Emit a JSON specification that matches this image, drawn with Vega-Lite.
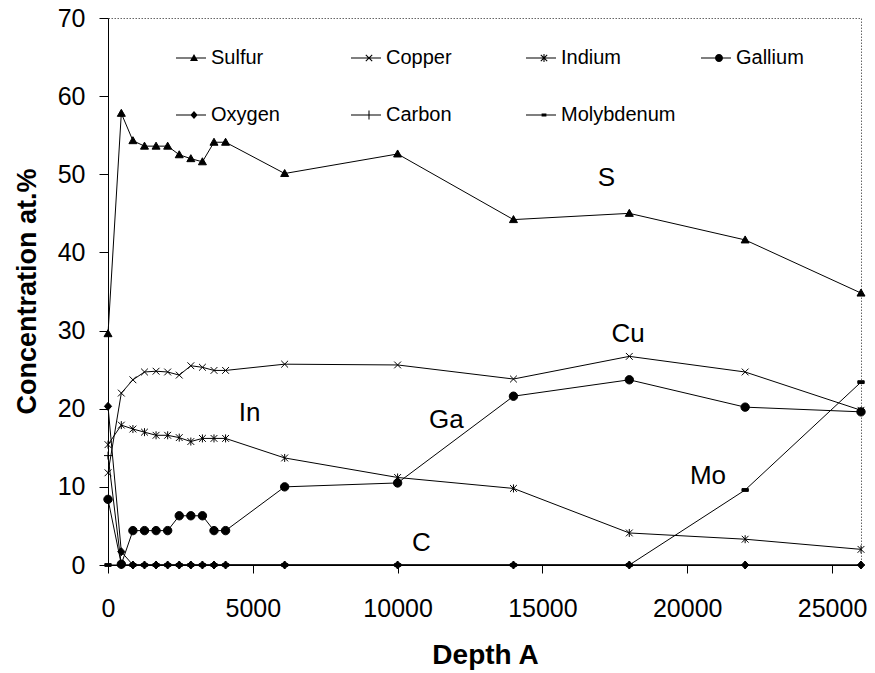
{
  "$schema": "https://vega.github.io/schema/vega-lite/v6.json",
  "autosize": "none",
  "width": 753,
  "height": 547,
  "padding": {"left": 108, "top": 18, "right": 14, "bottom": 108},
  "background": "white",
  "config": {
    "font": "Liberation Sans",
    "view": {"stroke": "#666", "strokeDash": [1.5, 1.5], "strokeWidth": 1}
  },
  "datasets": {
    "conc": [
      {"depth": 0, "Sulfur": 29.6, "Copper": 11.8, "Indium": 15.4, "Gallium": 8.4, "Oxygen": 20.3, "Carbon": 14.0, "Molybdenum": 0},
      {"depth": 460, "Sulfur": 57.8, "Copper": 22.0, "Indium": 17.9, "Gallium": 0.1, "Oxygen": 1.7, "Carbon": 0, "Molybdenum": 0},
      {"depth": 860, "Sulfur": 54.3, "Copper": 23.7, "Indium": 17.4, "Gallium": 4.4, "Oxygen": 0, "Carbon": 0, "Molybdenum": 0},
      {"depth": 1260, "Sulfur": 53.6, "Copper": 24.7, "Indium": 17.0, "Gallium": 4.4, "Oxygen": 0, "Carbon": 0, "Molybdenum": 0},
      {"depth": 1660, "Sulfur": 53.6, "Copper": 24.8, "Indium": 16.6, "Gallium": 4.4, "Oxygen": 0, "Carbon": 0, "Molybdenum": 0},
      {"depth": 2060, "Sulfur": 53.6, "Copper": 24.7, "Indium": 16.6, "Gallium": 4.4, "Oxygen": 0, "Carbon": 0, "Molybdenum": 0},
      {"depth": 2460, "Sulfur": 52.5, "Copper": 24.3, "Indium": 16.3, "Gallium": 6.3, "Oxygen": 0, "Carbon": 0, "Molybdenum": 0},
      {"depth": 2860, "Sulfur": 52.0, "Copper": 25.5, "Indium": 15.8, "Gallium": 6.3, "Oxygen": 0, "Carbon": 0, "Molybdenum": 0},
      {"depth": 3260, "Sulfur": 51.6, "Copper": 25.3, "Indium": 16.2, "Gallium": 6.3, "Oxygen": 0, "Carbon": 0, "Molybdenum": 0},
      {"depth": 3660, "Sulfur": 54.1, "Copper": 24.9, "Indium": 16.2, "Gallium": 4.4, "Oxygen": 0, "Carbon": 0, "Molybdenum": 0},
      {"depth": 4060, "Sulfur": 54.1, "Copper": 24.9, "Indium": 16.2, "Gallium": 4.4, "Oxygen": 0, "Carbon": 0, "Molybdenum": 0},
      {"depth": 6100, "Sulfur": 50.1, "Copper": 25.7, "Indium": 13.7, "Gallium": 10.0, "Oxygen": 0, "Carbon": 0, "Molybdenum": 0},
      {"depth": 10000, "Sulfur": 52.6, "Copper": 25.6, "Indium": 11.2, "Gallium": 10.5, "Oxygen": 0, "Carbon": 0, "Molybdenum": 0},
      {"depth": 14000, "Sulfur": 44.2, "Copper": 23.8, "Indium": 9.8, "Gallium": 21.6, "Oxygen": 0, "Carbon": 0, "Molybdenum": 0},
      {"depth": 18000, "Sulfur": 45.0, "Copper": 26.7, "Indium": 4.1, "Gallium": 23.7, "Oxygen": 0, "Carbon": 0, "Molybdenum": 0},
      {"depth": 22000, "Sulfur": 41.6, "Copper": 24.7, "Indium": 3.3, "Gallium": 20.2, "Oxygen": 0, "Carbon": 0, "Molybdenum": 9.6},
      {"depth": 26000, "Sulfur": 34.8, "Copper": 19.8, "Indium": 2.0, "Gallium": 19.6, "Oxygen": 0, "Carbon": 0, "Molybdenum": 23.4}
    ],
    "labels": [
      {"depth": 17210, "value": 49.5, "text": "S"},
      {"depth": 17955, "value": 29.6, "text": "Cu"},
      {"depth": 4893, "value": 19.5, "text": "In"},
      {"depth": 11685, "value": 18.5, "text": "Ga"},
      {"depth": 20718, "value": 11.4, "text": "Mo"},
      {"depth": 10822, "value": 2.8, "text": "C"}
    ]
  },
  "encoding": {
    "x": {
      "field": "depth", "type": "quantitative",
      "scale": {"domain": [0, 26000], "nice": false, "zero": false},
      "axis": {
        "title": "Depth A", "values": [0, 5000, 10000, 15000, 20000, 25000], "format": "d",
        "grid": false, "domainColor": "black", "domainWidth": 1, "tickColor": "black", "tickSize": 8,
        "labelFont": "Liberation Sans", "labelFontSize": 25, "labelColor": "black",
        "labelBaseline": "alphabetic", "labelPadding": 43, "labelFlush": false,
        "titleFont": "Liberation Sans", "titleFontSize": 28, "titleFontWeight": "bold", "titleColor": "black",
        "titleBaseline": "alphabetic", "titleAlign": "center", "titleAnchor": "middle", "titleX": 377, "titleY": 98
      }
    },
    "y": {
      "field": "value", "type": "quantitative",
      "scale": {"domain": [0, 70], "nice": false},
      "axis": {
        "title": "Concentration at.%", "values": [0, 10, 20, 30, 40, 50, 60, 70],
        "grid": false, "domainColor": "black", "domainWidth": 1, "tickColor": "black", "tickSize": 9,
        "labelFont": "Liberation Sans", "labelFontSize": 25, "labelColor": "black", "labelPadding": 14,
        "titleFont": "Liberation Sans", "titleFontSize": 27, "titleFontWeight": "bold", "titleColor": "black",
        "titleAngle": -90, "titleBaseline": "alphabetic", "titleAlign": "center", "titleX": -73, "titleY": 273
      }
    }
  },
  "resolve": {"scale": {"shape": "independent"}},
  "layer": [
    {
      "data": {"name": "conc"},
      "transform": [{"fold": ["Sulfur", "Copper", "Indium", "Gallium", "Oxygen", "Carbon", "Molybdenum"], "as": ["element", "value"]}],
      "mark": {"type": "line", "color": "black", "strokeWidth": 1},
      "encoding": {"detail": {"field": "element"}}
    },
    {
      "data": {"name": "conc"},
      "transform": [{"fold": ["Sulfur", "Copper", "Indium", "Gallium", "Oxygen", "Carbon", "Molybdenum"], "as": ["element", "value"]}],
      "mark": {"type": "point", "filled": true, "fill": "black", "stroke": "black", "strokeWidth": 1, "size": 64, "opacity": 1, "fillOpacity": 1, "strokeOpacity": 1},
      "encoding": {
        "shape": {
          "field": "element", "type": "nominal",
          "scale": {
            "domain": ["Sulfur", "Copper", "Indium", "Gallium", "Oxygen", "Carbon", "Molybdenum"],
            "range": [
              "M0,-1L1,0.75L-1,0.75Z",
              "M-0.85,-0.85L0.85,0.85M-0.85,0.85L0.85,-0.85",
              "M-0.85,-0.85L0.85,0.85M-0.85,0.85L0.85,-0.85M0,-1L0,1",
              "M1.05,0A1.05,1.05,0,1,1,-1.05,0A1.05,1.05,0,1,1,1.05,0Z",
              "M0,-1L0.9,0L0,1L-0.9,0Z",
              "M-1,0L1,0M0,-1L0,1",
              "M-0.8,-0.35H0.8V0.35H-0.8Z"
            ]
          },
          "legend": null
        }
      }
    },
    {
      "data": {"name": "labels"},
      "mark": {"type": "text", "font": "Liberation Sans", "fontSize": 26, "color": "black", "align": "center", "baseline": "middle"},
      "encoding": {"text": {"field": "text"}}
    },
    {
      "data": {"name": "conc"},
      "transform": [
        {"fold": ["Sulfur", "Copper", "Indium", "Gallium", "Oxygen", "Carbon", "Molybdenum"], "as": ["element", "value"]},
        {"filter": "false"}
      ],
      "mark": {"type": "point", "filled": true, "color": "black", "size": 64, "opacity": 1},
      "encoding": {
        "shape": {
          "field": "element", "type": "nominal",
          "scale": {
            "domain": ["Sulfur", "Copper", "Indium", "Gallium", "Oxygen", "Carbon", "Molybdenum"],
            "range": [
              "M-4.5,-0.13H3V0.13H-4.5ZM0,-1L1,0.75L-1,0.75Z",
              "M-4.5,-0.13H3V0.13H-4.5ZM-0.708,-0.892L0.892,0.708L0.708,0.892L-0.892,-0.708ZM-0.708,0.892L-0.892,0.708L0.708,-0.892L0.892,-0.708Z",
              "M-4.5,-0.13H3V0.13H-4.5ZM-0.708,-0.892L0.892,0.708L0.708,0.892L-0.892,-0.708ZM-0.708,0.892L-0.892,0.708L0.708,-0.892L0.892,-0.708ZM-0.13,-1H0.13V1H-0.13Z",
              "M-4.5,-0.13H3V0.13H-4.5ZM1,0A1,1,0,1,1,-1,0A1,1,0,1,1,1,0Z",
              "M-4.5,-0.13H3V0.13H-4.5ZM0,-1L0.9,0L0,1L-0.9,0Z",
              "M-4.5,-0.13H3V0.13H-4.5ZM-0.13,-1.1H0.13V1.1H-0.13Z",
              "M-4.5,-0.13H3V0.13H-4.5ZM-0.6,-0.35H0.6V0.35H-0.6Z"
            ]
          },
          "legend": {
            "orient": "none", "legendX": 76, "legendY": 30, "columns": 4, "direction": "horizontal", "title": null, "padding": 0,
            "gridAlign": "all", "columnPadding": 25, "rowPadding": 37,
            "labelFont": "Liberation Sans", "labelFontSize": 20, "labelColor": "black", "labelOffset": 7,
            "symbolSize": 64, "symbolFillColor": "black", "symbolStrokeColor": "black", "symbolStrokeWidth": 0, "symbolOpacity": 1
          }
        }
      }
    }
  ]
}
